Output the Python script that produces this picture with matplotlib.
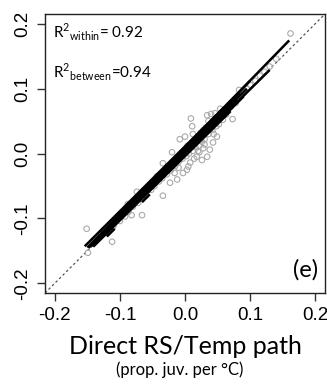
import numpy as np
import matplotlib
matplotlib.use('Agg')
import matplotlib.pyplot as plt

# scatter points (grey open circles)
px = [0.162, 0.083, 0.073, 0.009, 0.011, 0.034, 0.046, 0.054, 0.040,
      -0.020, -0.034, -0.043, -0.074, -0.034, 0.003, 0.038, 0.049, 0.043,
      -0.008, 0.000, 0.034, 0.018, 0.005, -0.003, -0.012, -0.023, 0.008,
      -0.066, -0.082, -0.151, -0.112, -0.149, -0.088,
      -0.130, -0.125, -0.120, -0.115, -0.110, -0.105, -0.100, -0.098, -0.095,
      -0.092, -0.090, -0.087, -0.085, -0.080, -0.077, -0.072, -0.070, -0.066,
      -0.062, -0.060, -0.056, -0.052, -0.050, -0.047, -0.044, -0.040, -0.038,
      -0.035, -0.030, -0.028, -0.025, -0.022, -0.018, -0.015, -0.012, -0.010,
      -0.006, -0.004, 0.000, 0.002, 0.004, 0.006, 0.010, 0.012, 0.014,
      0.016, 0.020, 0.022, 0.024, 0.026, 0.028, 0.030, 0.032, 0.036,
      0.040, 0.042, 0.045, 0.048, 0.050, 0.052, 0.055, 0.058, 0.060,
      0.063, 0.066, 0.070, 0.075, 0.078, 0.085, 0.090, 0.095, 0.100,
      0.108, 0.115, 0.122, 0.130, 0.140, 0.022, 0.028, 0.014, 0.026,
      0.030, 0.020, -0.016, -0.010, 0.012, 0.036, 0.044, 0.024]
py = [0.185, 0.098, 0.053, 0.054, 0.042, 0.059, 0.062, 0.069, 0.061,
      0.002, -0.015, -0.035, -0.059, -0.065, -0.025, 0.006, 0.026, 0.017,
      0.022, 0.026, -0.005, -0.005, -0.020, -0.030, -0.040, -0.045, -0.014,
      -0.095, -0.095, -0.116, -0.136, -0.153, -0.078,
      -0.125, -0.118, -0.122, -0.110, -0.112, -0.100, -0.104, -0.092, -0.090,
      -0.097, -0.085, -0.090, -0.078, -0.082, -0.072, -0.076, -0.064, -0.070,
      -0.058, -0.064, -0.052, -0.056, -0.044, -0.050, -0.040, -0.043, -0.032,
      -0.038, -0.026, -0.032, -0.020, -0.026, -0.012, -0.019, -0.006, -0.013,
      0.000, -0.008, 0.006, -0.004, 0.012, 0.000, 0.016, 0.004, 0.020,
      0.010, 0.026, 0.012, 0.032, 0.018, 0.036, 0.022, 0.040, 0.030,
      0.046, 0.036, 0.050, 0.042, 0.056, 0.045, 0.060, 0.052, 0.066,
      0.060, 0.070, 0.072, 0.080, 0.078, 0.090, 0.094, 0.100, 0.106,
      0.112, 0.120, 0.126, 0.134, 0.146, 0.002, 0.008, -0.008, -0.010,
      0.014, 0.004, -0.030, -0.022, 0.030, 0.050, 0.030, 0.020]

# within-group regression lines: start x, end x, intercept, slope
line_x0 = [-0.150, -0.145, -0.148, -0.140, -0.135, -0.130, -0.120, -0.154, -0.141, -0.120, -0.066, -0.110]
line_x1 = [0.160, 0.130, 0.095, 0.090, 0.085, 0.080, 0.100, 0.060, 0.070, -0.108, -0.054, 0.075]
line_b = [0.0095, 0.000, 0.004, -0.002, 0.006, 0.002, 0.008, 0.011, -0.004, -0.008, -0.009, 0.003]
line_m = [1.03, 0.99, 1.01, 1.00, 1.02, 1.01, 1.04, 1.00, 0.99, 1.00, 1.00, 1.01]

xticks = [-0.2, -0.1, 0.0, 0.1, 0.2]
yticks = [-0.2, -0.1, 0.0, 0.1, 0.2]

fig = plt.figure(figsize=(3.27, 3.87), dpi=100)
ax = fig.add_axes([0.1376, 0.2429, 0.8564, 0.7209])

ax.plot([-0.215, 0.215], [-0.215, 0.215], linestyle=(0, (2, 2)), color='#555555', lw=0.9, zorder=1)
ax.scatter(px, py, s=16, facecolors='none', edgecolors='#aaaaaa', linewidths=0.8, zorder=2)
for x0, x1, b, m in zip(line_x0, line_x1, line_b, line_m):
    xs = np.array([x0, x1])
    ax.plot(xs, b + m * xs, color='black', lw=1.8, solid_capstyle='butt', zorder=3)

ax.set_xlim(-0.215, 0.215)
ax.set_ylim(-0.215, 0.215)
ax.set_xticks(xticks)
ax.set_yticks(yticks)
ax.set_xticklabels(['%.1f' % v for v in xticks], family='Liberation Sans', fontsize=13.5)
ax.set_yticklabels(['%.1f' % v for v in yticks], family='Liberation Sans', fontsize=13.5,
                   rotation=90, va='center')
ax.tick_params(length=6, width=1, color='#333333', pad=4)
for s in ax.spines.values():
    s.set_linewidth(1.0)
    s.set_color('#222222')

ax.text(0.03, 0.935, r'R$^{\mathregular{2}}$$_{\mathregular{within}}$= 0.92', transform=ax.transAxes,
        family='Lato', fontsize=11, va='center', ha='left')
ax.text(0.03, 0.79, r'R$^{\mathregular{2}}$$_{\mathregular{between}}$=0.94', transform=ax.transAxes,
        family='Lato', fontsize=11, va='center', ha='left')
ax.text(0.975, 0.082, '(e)', transform=ax.transAxes, family='Lato', fontsize=17,
        ha='right', va='center')

fig.text(0.568, 0.105, 'Direct RS/Temp path', family='Lato', fontsize=18, ha='center', va='center')
fig.text(0.55, 0.044, '(prop. juv. per °C)', family='Lato', fontsize=12, ha='center', va='center')

fig.savefig('out.png', dpi=100)
